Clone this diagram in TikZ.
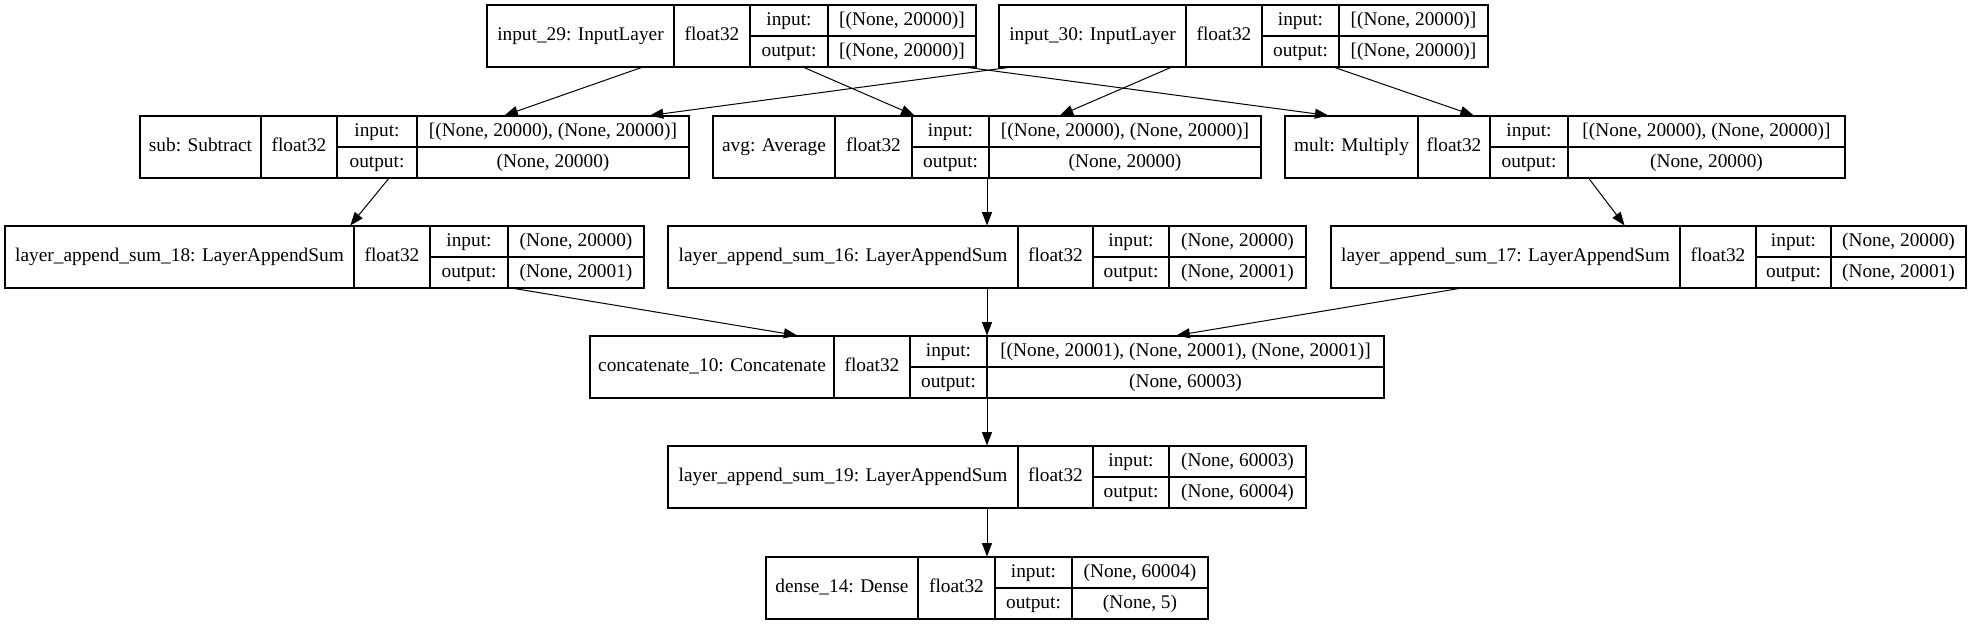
\documentclass[tikz,border=0pt]{standalone}
\usepackage{fontspec}
\setmainfont{Liberation Serif}
\usetikzlibrary{arrows.meta}
\usetikzlibrary{fit}

\tikzset{
  box/.style={draw, line width=0.8pt, inner sep=0pt},
  cell/.style={line width=0.8pt},
  txt/.style={inner sep=0pt, text height=9.8pt, text depth=3pt, font=\fontsize{14.5}{16}\selectfont},
  edge/.style={-{Triangle[length=10pt,width=7.5pt]}, line width=0.75pt}
}

\newcommand{\layer}[9]{
  \coordinate (#1-nw) at (#2,0);
  \coordinate (#1-se) at (#6,62);
  \node[box, fit=(#1-nw)(#1-se)] (#1) {};
  \draw[cell] (#3,0) -- (#3,62) (#4,0) -- (#4,62) (#5,0) -- (#5,62) (#4,31) -- (#6,31);
  \node[txt] (#1-lbl) at ({(#2+#3)/2},31) {#7};
  \node[txt] (#1-typ) at ({(#3+#4)/2},31) {float32};
  \node[txt] (#1-ink) at ({(#4+#5)/2},15.5) {input:};
  \node[txt] (#1-inv) at ({(#5+#6)/2},15.5) {#8};
  \node[txt] (#1-outk) at ({(#4+#5)/2},46.5) {output:};
  \node[txt] (#1-outv) at ({(#5+#6)/2},46.5) {#9};
}

\begin{document}
\begin{tikzpicture}[x=0.75pt, y=-0.75pt]
  \useasboundingbox (0,0) rectangle (1975,627);

  \begin{scope}[shift={(0,5)}]
    \layer{in29}{487}{674}{750}{828}{976}{input\_29: InputLayer}{[(None, 20000)]}{[(None, 20000)]}
    \layer{in30}{999}{1186}{1262}{1339}{1488}{input\_30: InputLayer}{[(None, 20000)]}{[(None, 20000)]}
  \end{scope}

  \begin{scope}[shift={(0,116)}]
    \layer{sub}{140}{261}{337}{417}{689}{sub: Subtract}{[(None, 20000), (None, 20000)]}{(None, 20000)}
    \layer{avg}{713}{835}{912}{989}{1261}{avg: Average}{[(None, 20000), (None, 20000)]}{(None, 20000)}
    \layer{mult}{1285}{1418}{1490}{1568}{1845}{mult: Multiply}{[(None, 20000), (None, 20000)]}{(None, 20000)}
  \end{scope}

  \begin{scope}[shift={(0,226)}]
    \layer{sum18}{5}{354}{430}{508}{644}{layer\_append\_sum\_18: LayerAppendSum}{(None, 20000)}{(None, 20001)}
    \layer{sum16}{668}{1018}{1093}{1169}{1306}{layer\_append\_sum\_16: LayerAppendSum}{(None, 20000)}{(None, 20001)}
    \layer{sum17}{1331}{1680}{1756}{1831}{1966}{layer\_append\_sum\_17: LayerAppendSum}{(None, 20000)}{(None, 20001)}
  \end{scope}

  \begin{scope}[shift={(0,336)}]
    \layer{concat}{590}{834}{910}{987}{1384}{concatenate\_10: Concatenate}{[(None, 20001), (None, 20001), (None, 20001)]}{(None, 60003)}
  \end{scope}

  \begin{scope}[shift={(0,446)}]
    \layer{sum19}{668}{1018}{1093}{1169}{1306}{layer\_append\_sum\_19: LayerAppendSum}{(None, 60003)}{(None, 60004)}
  \end{scope}

  \begin{scope}[shift={(0,557)}]
    \layer{dense}{766}{918}{995}{1072}{1208}{dense\_14: Dense}{(None, 60004)}{(None, 5)}
  \end{scope}

  \foreach \from/\to in {in29/sub, in29/avg, in29/mult, in30/sub, in30/avg, in30/mult,
      sub/sum18, avg/sum16, mult/sum17, sum18/concat, sum16/concat, sum17/concat,
      concat/sum19, sum19/dense}
    \draw[edge] (\from) -- (\to);
\end{tikzpicture}
\end{document}
